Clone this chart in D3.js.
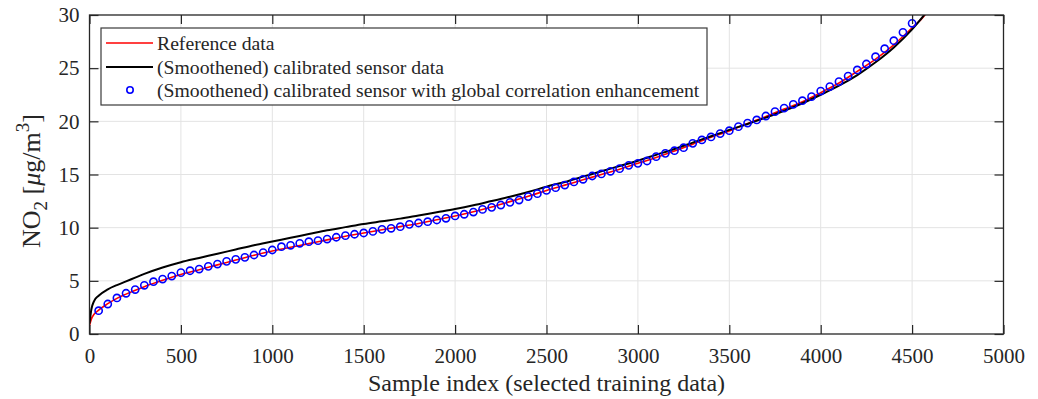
<!DOCTYPE html>
<html>
<head>
<meta charset="utf-8">
<script src="https://cdn.jsdelivr.net/npm/d3@7"></script>
<style>
  body { margin: 0; background: #fff; }
  svg { display: block; }
  text { font-family: "Liberation Serif", "Times New Roman", serif; fill: #262626; }
</style>
</head>
<body>
<div id="chart"></div>
<script>
// Reference data (red line)
const refIdx = [0, 10, 25, 50, 100, 150, 200, 300, 400, 500, 600, 700, 800, 900, 1000,
  1100, 1200, 1300, 1400, 1500, 1600, 1700, 1800, 1900, 2000, 2100, 2200, 2300, 2400,
  2500, 2600, 2700, 2800, 2900, 3000, 3100, 3200, 3300, 3400, 3500, 3600, 3700, 3800,
  3900, 4000, 4100, 4200, 4300, 4400, 4500, 4570, 4620];
const refVals = [0.8, 1.4, 1.85, 2.25, 2.85, 3.35, 3.75, 4.45, 5.05, 5.6, 6.05, 6.5, 6.95,
  7.4, 7.8, 8.15, 8.5, 8.85, 9.2, 9.5, 9.8, 10.1, 10.4, 10.75, 11.1, 11.5, 11.95, 12.45,
  12.95, 13.5, 14.0, 14.5, 15.0, 15.5, 16.05, 16.6, 17.2, 17.85, 18.5, 19.1, 19.8, 20.45,
  21.15, 21.85, 22.7, 23.6, 24.7, 25.85, 27.2, 28.8, 30.0, 31.5];

// (Smoothened) calibrated sensor data (black line)
const sensIdx = [0, 10, 25, 50, 100, 150, 200, 250, 300, 400, 500, 600, 700, 800, 900, 1000,
  1100, 1200, 1300, 1400, 1500, 1600, 1700, 1800, 1900, 2000, 2100, 2200, 2300, 2400,
  2500, 2600, 2700, 2800, 2900, 3000, 3100, 3200, 3300, 3400, 3500, 3600, 3700, 3800,
  3900, 4000, 4100, 4200, 4300, 4400, 4500, 4580, 4620];
const sensVals = [1.0, 2.3, 3.1, 3.6, 4.2, 4.6, 4.95, 5.3, 5.65, 6.25, 6.75, 7.15, 7.55, 7.95,
  8.35, 8.7, 9.05, 9.4, 9.75, 10.05, 10.35, 10.6, 10.85, 11.15, 11.45, 11.75, 12.1, 12.5,
  12.9, 13.35, 13.85, 14.3, 14.8, 15.3, 15.8, 16.3, 16.85, 17.4, 18.0, 18.6, 19.2,
  19.75, 20.35, 21.0, 21.7, 22.5, 23.35, 24.35, 25.55, 26.95, 28.65, 30.3, 31.2];

// with global correlation enhancement (blue circles, every 50 samples)
const enhIdx = d3.range(50, 4501, 50);
const enhVals = [2.19, 2.82, 3.39, 3.83, 4.18, 4.58, 4.92, 5.17, 5.45, 5.77, 5.95, 6.11,
  6.36, 6.58, 6.83, 7.02, 7.21, 7.43, 7.65, 7.9, 8.21, 8.34, 8.53, 8.68, 8.78, 8.93, 9.1,
  9.25, 9.38, 9.5, 9.65, 9.84, 9.94, 10.09, 10.31, 10.44, 10.56, 10.72, 10.88, 11.1, 11.26,
  11.47, 11.72, 11.91, 12.13, 12.38, 12.6, 12.92, 13.2, 13.5, 13.76, 14.01, 14.3, 14.55,
  14.86, 15.05, 15.3, 15.55, 15.86, 16.05, 16.27, 16.68, 16.99, 17.24, 17.52, 17.93, 18.25,
  18.53, 18.84, 19.12, 19.5, 19.84, 20.13, 20.5, 20.91, 21.25, 21.6, 21.94, 22.32, 22.85,
  23.26, 23.73, 24.26, 24.83, 25.39, 26.08, 26.83, 27.58, 28.37, 29.22];

const xTicks = [0, 500, 1000, 1500, 2000, 2500, 3000, 3500, 4000, 4500, 5000];
const yTicks = [0, 5, 10, 15, 20, 25, 30];
const legendLabels = ['Reference data', '(Smoothened) calibrated sensor data',
  '(Smoothened) calibrated sensor with global correlation enhancement'];

const W = 1038, H = 399;
const plot = { left: 89.5, right: 1003.5, top: 15, bottom: 334 };
const serif = '"Liberation Serif", "Times New Roman", serif';

const svg = d3.select('#chart').append('svg')
  .attr('width', W).attr('height', H);

const x = d3.scaleLinear().domain([0, 5000]).range([plot.left, plot.right]);
const y = d3.scaleLinear().domain([0, 30]).range([plot.bottom, plot.top]);

// grid
const grid = svg.append('g').attr('stroke', '#e3e3e3').attr('stroke-width', 1);
grid.selectAll('.gx').data(xTicks.slice(1, -1)).enter().append('line')
  .attr('x1', d => x(d)).attr('x2', d => x(d))
  .attr('y1', plot.top).attr('y2', plot.bottom);
grid.selectAll('.gy').data(yTicks.slice(1, -1)).enter().append('line')
  .attr('x1', plot.left).attr('x2', plot.right)
  .attr('y1', d => y(d)).attr('y2', d => y(d));

// clip
svg.append('clipPath').attr('id', 'clip').append('rect')
  .attr('x', plot.left).attr('y', plot.top)
  .attr('width', plot.right - plot.left).attr('height', plot.bottom - plot.top);

const line = d3.line().x(d => x(d[0])).y(d => y(d[1])).curve(d3.curveMonotoneX);
const series = svg.append('g').attr('clip-path', 'url(#clip)');

series.append('path')
  .datum(refIdx.map((v, i) => [v, refVals[i]]))
  .attr('d', line).attr('fill', 'none')
  .attr('stroke', '#ff0000').attr('stroke-width', 1.6);

series.append('path')
  .datum(sensIdx.map((v, i) => [v, sensVals[i]]))
  .attr('d', line).attr('fill', 'none')
  .attr('stroke', '#000').attr('stroke-width', 2);

series.selectAll('circle')
  .data(enhIdx.map((v, i) => [v, enhVals[i]]))
  .enter().append('circle')
  .attr('cx', d => x(d[0])).attr('cy', d => y(d[1])).attr('r', 3.6)
  .attr('fill', 'none').attr('stroke', '#0000ff').attr('stroke-width', 1.6);

// axes
const fs = 21;
const axB = svg.append('g').attr('transform', `translate(0,${plot.bottom})`)
  .call(d3.axisBottom(x).tickValues(xTicks).tickSize(-9).tickPadding(14).tickFormat(d3.format('d')));
const axL = svg.append('g').attr('transform', `translate(${plot.left},0)`)
  .call(d3.axisLeft(y).tickValues(yTicks).tickSize(-9).tickPadding(10));
const axT = svg.append('g').attr('transform', `translate(0,${plot.top})`)
  .call(d3.axisTop(x).tickValues(xTicks).tickSize(-9).tickFormat(''));
const axR = svg.append('g').attr('transform', `translate(${plot.right},0)`)
  .call(d3.axisRight(y).tickValues(yTicks).tickSize(-9).tickFormat(''));
[axB, axL, axT, axR].forEach(a => {
  a.attr('font-family', serif).attr('font-size', fs);
  a.select('.domain').remove();
  a.selectAll('line').attr('stroke', '#262626').attr('stroke-width', 1.2);
  a.selectAll('text').attr('fill', '#262626')
    .style('font-family', serif).style('font-size', fs + 'px');
});

svg.append('rect')
  .attr('x', plot.left).attr('y', plot.top)
  .attr('width', plot.right - plot.left).attr('height', plot.bottom - plot.top)
  .attr('fill', 'none').attr('stroke', '#262626').attr('stroke-width', 1.3);

// axis labels
svg.append('text')
  .attr('x', (plot.left + plot.right) / 2).attr('y', 391)
  .attr('text-anchor', 'middle').style('font-size', '24px')
  .text('Sample index (selected training data)');

const yl = svg.append('text')
  .attr('transform', 'translate(40,181) rotate(-90)')
  .attr('text-anchor', 'middle').style('font-size', '26px');
yl.append('tspan').text('NO');
yl.append('tspan').attr('dy', 7).style('font-size', '19px').text('2');
yl.append('tspan').attr('dy', -7).text(' [');
yl.append('tspan').attr('font-style', 'italic').text('μ');
yl.append('tspan').text('g/m');
yl.append('tspan').attr('dy', -11).style('font-size', '19px').text('3');
yl.append('tspan').attr('dy', 11).text(']');

// legend
const lg = svg.append('g');
lg.append('rect')
  .attr('x', 101).attr('y', 28).attr('width', 606).attr('height', 77)
  .attr('fill', '#fff').attr('stroke', '#3a3a3a').attr('stroke-width', 1.2);
const rowY = [43, 67, 90];
lg.append('line').attr('x1', 106).attr('x2', 153).attr('y1', rowY[0]).attr('y2', rowY[0])
  .attr('stroke', '#ff0000').attr('stroke-width', 1.6);
lg.append('line').attr('x1', 106).attr('x2', 153).attr('y1', rowY[1]).attr('y2', rowY[1])
  .attr('stroke', '#000').attr('stroke-width', 2);
lg.append('circle').attr('cx', 130).attr('cy', rowY[2]).attr('r', 3.2)
  .attr('fill', 'none').attr('stroke', '#0000ff').attr('stroke-width', 1.6);
lg.selectAll('.lt').data(legendLabels).enter().append('text')
  .attr('x', 157).attr('y', (d, i) => rowY[i]).attr('dy', '0.33em')
  .attr('fill', '#000').style('font-size', '19.7px').text(d => d);
</script>
</body>
</html>
